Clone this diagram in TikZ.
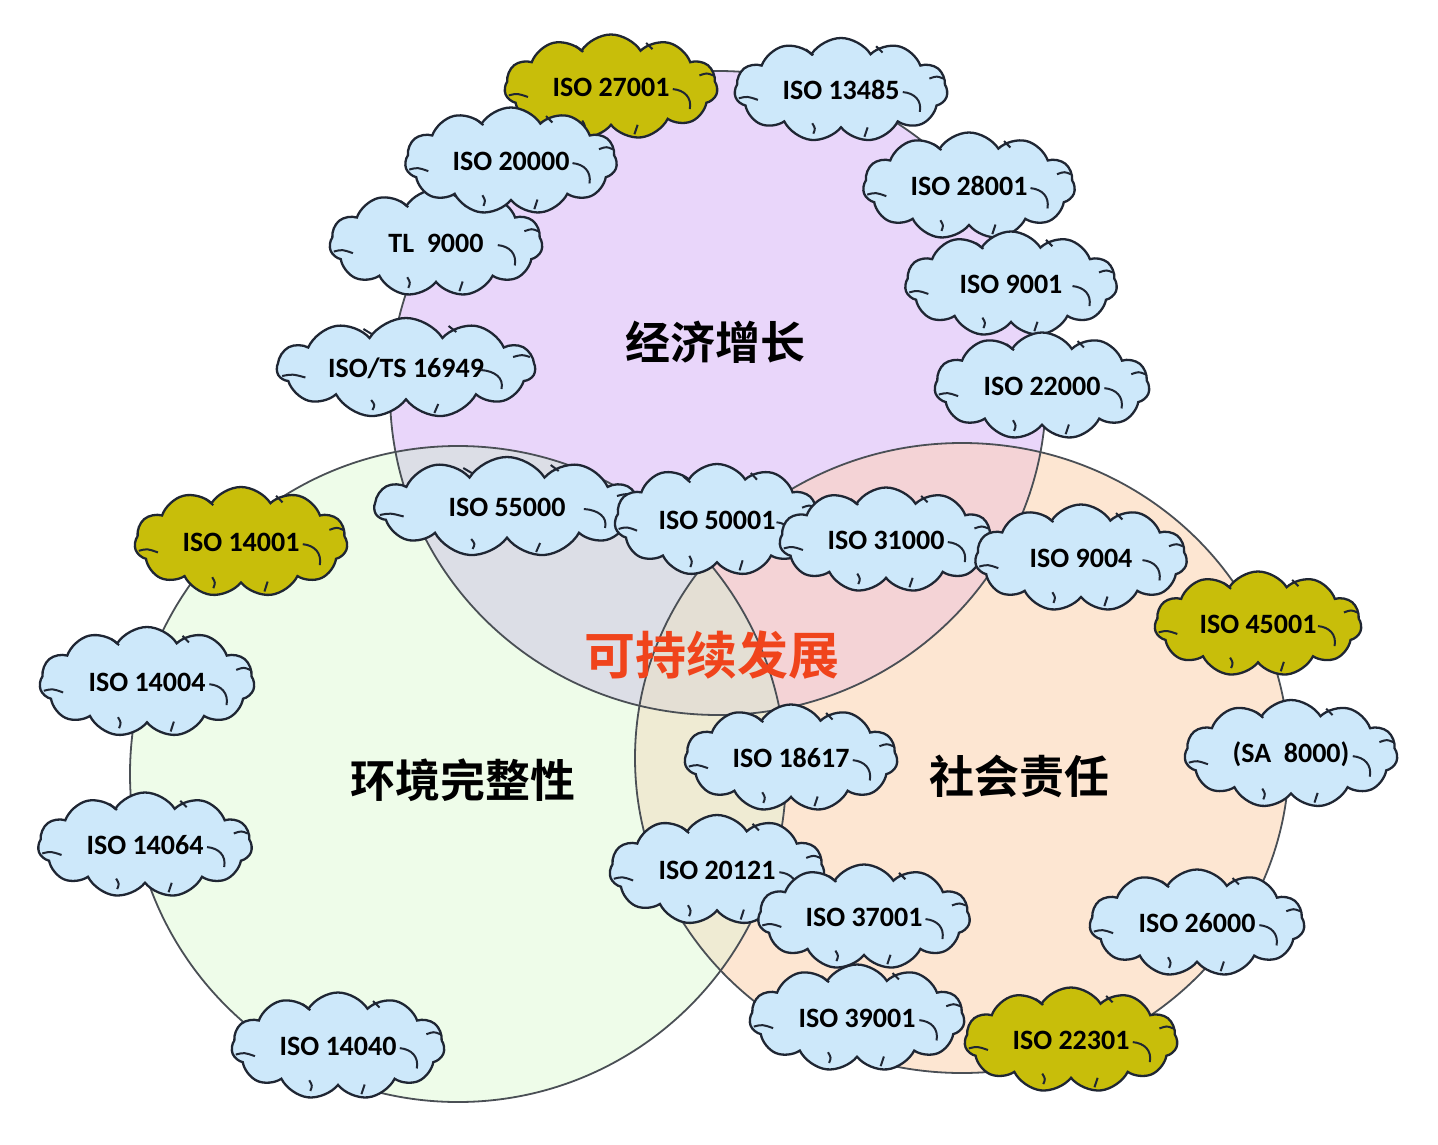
\documentclass[tikz,border=0pt]{standalone}
\usepackage{fontspec}
\setmainfont{Carlito}
\newfontfamily\cjk{Noto Sans CJK SC}[BoldFont={Noto Sans CJK SC Bold}]
\usetikzlibrary{shapes.symbols}
\definecolor{cPur}{HTML}{E9D6FA}
\definecolor{cGrn}{HTML}{EEFCE9}
\definecolor{cOrg}{HTML}{FDE6D2}
\definecolor{cPG}{HTML}{DCDEE6}
\definecolor{cPO}{HTML}{F4D3D6}
\definecolor{cGO}{HTML}{EFEBD3}
\definecolor{cPGO}{HTML}{E4DFD4}
\definecolor{cBlue}{HTML}{CDE8FA}
\definecolor{cOlive}{HTML}{C8BE0A}
\definecolor{cLine}{HTML}{1F2633}
\definecolor{cRing}{HTML}{4A4F55}
\definecolor{cRed}{HTML}{F0441C}
\tikzset{
  curlline/.style={draw=cLine,line width=1pt},
  isocloud/.style={cloud, cloud puffs=11, cloud puff arc=115, cloud ignores aspect,
    draw=cLine, line width=1.15pt, fill=cBlue, inner sep=0pt,
    font=\bfseries\fontsize{14}{16}\selectfont, text=black},
  olivecloud/.style={isocloud, fill=cOlive},
  bigtitle/.style={font=\cjk\bfseries\fontsize{22.5}{27}\selectfont, text=black},
  ring/.style={draw=cRing, line width=0.9pt}
}
% #1 style, #2 name, #3 x, #4 y, #5 width px, #6 height px, #7 text
\newcommand\isocld[7]{%
  \node[#1, minimum width=#5*0.5pt, minimum height=#6*0.5pt] (#2) at (#3,#4) {#7};
  \begin{scope}[shift={(#3,#4)}, xscale=#5/2, yscale=-#6/2]
    \draw[curlline] (-0.96,-0.16) .. controls (-0.88,-0.12) .. (-0.78,-0.19);
    \draw[curlline] (0.58,-0.04) .. controls (0.69,-0.06) and (0.76,-0.2) .. (0.74,-0.42);
    \draw[curlline] (0.83,0.22) .. controls (0.9,0.27) .. (0.96,0.22);
    \draw[curlline] (-0.27,-0.64) .. controls (-0.24,-0.74) .. (-0.26,-0.84);
    \draw[curlline] (0.25,-0.72) .. controls (0.23,-0.82) .. (0.22,-0.9);
    \draw[curlline] (-0.33,0.78) .. controls (-0.3,0.72) .. (-0.26,0.67);
    \draw[curlline] (0.33,0.84) .. controls (0.36,0.78) .. (0.39,0.72);
  \end{scope}}
\begin{document}
\begin{tikzpicture}[x=0.5pt,y=-0.5pt]
\useasboundingbox (0,0) rectangle (1438,1144);
\fill[white] (0,0) rectangle (1438,1144);
% base circles
\def\purpath{(718,393) ellipse [x radius=328, y radius=322]}
\def\grnpath{(458,774) circle [radius=328]}
\def\orgpath{(962,758) ellipse [x radius=327, y radius=315]}
\fill[cPur] \purpath;
\fill[cGrn] \grnpath;
\fill[cOrg] \orgpath;
\begin{scope}
  \clip \purpath;
  \fill[cPG] \grnpath;
  \fill[cPO] \orgpath;
\end{scope}
\begin{scope}
  \clip \grnpath;
  \fill[cGO] \orgpath;
\end{scope}
\begin{scope}
  \clip \purpath;
  \clip \grnpath;
  \fill[cPGO] \orgpath;
\end{scope}
\draw[ring] \purpath;
\draw[ring] \grnpath;
\draw[ring] \orgpath;
% titles
\node[bigtitle] (econ) at (715,342) {经济增长};
\node[bigtitle] (env) at (463,780) {环境完整性};
\node[bigtitle] (soc) at (1019,776) {社会责任};
\node[font=\cjk\bfseries\fontsize{25.5}{30}\selectfont, text=cRed] (sust) at (712,655) {可持续发展};
% clouds
\isocld{olivecloud}{c27001}{611}{87}{213}{105}{ISO 27001}
\isocld{isocloud}{c9000}{436}{243}{213}{107}{TL\ \ 9000}
\isocld{isocloud}{c20000}{511}{161}{212}{107}{ISO 20000}
\isocld{isocloud}{c13485}{841}{90}{213}{104}{ISO 13485}
\isocld{isocloud}{c28001}{969}{186}{212}{107}{ISO 28001}
\isocld{isocloud}{c9001}{1011}{284}{212}{105}{ISO 9001}
\isocld{isocloud}{c16949}{406}{368}{258}{100}{ISO/TS 16949}
\isocld{isocloud}{c22000}{1042}{386}{215}{107}{ISO 22000}
\isocld{isocloud}{c55000}{507}{507}{265}{100}{ISO 55000}
\isocld{isocloud}{c50001}{717}{520}{205}{112}{ISO 50001}
\isocld{isocloud}{c31000}{886}{540}{213}{105}{ISO 31000}
\isocld{isocloud}{c9004}{1081}{558}{212}{107}{ISO 9004}
\isocld{olivecloud}{c14001}{241}{542}{213}{110}{ISO 14001}
\isocld{olivecloud}{c45001}{1258}{624}{207}{105}{ISO 45001}
\isocld{isocloud}{c14004}{147}{682}{215}{110}{ISO 14004}
\isocld{isocloud}{c8000}{1291}{754}{213}{108}{(SA\ \ 8000)}
\isocld{isocloud}{c18617}{791}{758}{213}{107}{ISO 18617}
\isocld{isocloud}{c14064}{145}{845}{214}{105}{ISO 14064}
\isocld{isocloud}{c20121}{717}{870}{215}{110}{ISO 20121}
\isocld{isocloud}{c39001}{857}{1018}{215}{107}{ISO 39001}
\isocld{isocloud}{c37001}{864}{917}{212}{105}{ISO 37001}
\isocld{isocloud}{c26000}{1197}{923}{215}{107}{ISO 26000}
\isocld{olivecloud}{c22301}{1071}{1040}{213}{105}{ISO 22301}
\isocld{isocloud}{c14040}{338}{1046}{213}{107}{ISO 14040}
\end{tikzpicture}
\end{document}
